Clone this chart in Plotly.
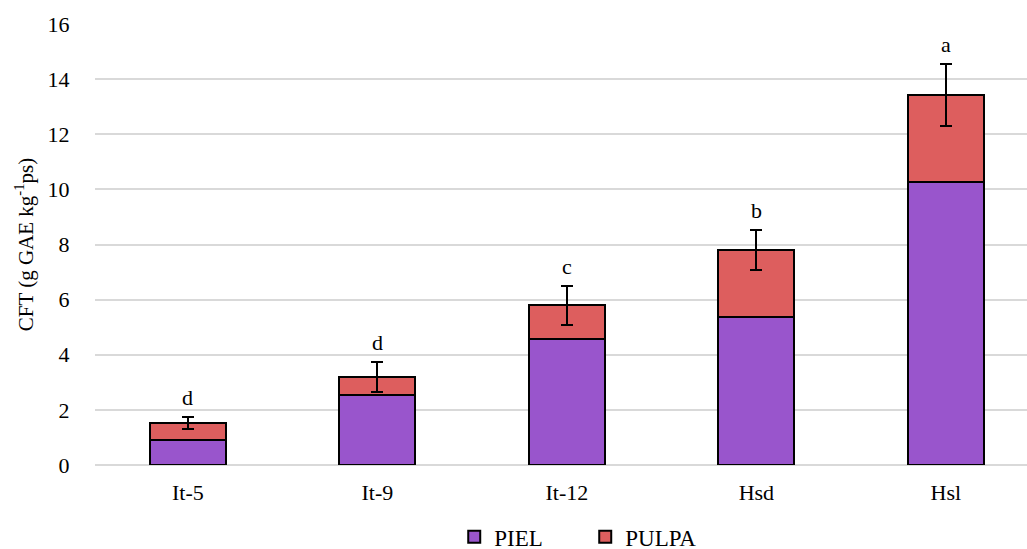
import plotly.graph_objects as go

categories = ["It-5", "It-9", "It-12", "Hsd", "Hsl"]
piel = [0.91, 2.54, 4.57, 5.38, 10.27]
pulpa = [0.61, 0.65, 1.23, 2.42, 3.15]
error = [0.23, 0.55, 0.71, 0.73, 1.13]
letters = ["d", "d", "c", "b", "a"]

font_family = "Liberation Serif"
fs = 22

fig = go.Figure()
fig.add_trace(go.Bar(
    x=categories, y=piel, name="PIEL",
    marker=dict(color="#9955cc", line=dict(color="black", width=2)),
    width=0.4,
))
fig.add_trace(go.Bar(
    x=categories, y=pulpa, name="PULPA",
    marker=dict(color="#dd5e5e", line=dict(color="black", width=2)),
    width=0.4,
    error_y=dict(type="data", array=error, visible=True, color="black", thickness=2, width=6),
))

for c, p, q, e, l in zip(categories, piel, pulpa, error, letters):
    fig.add_annotation(x=c, y=p + q + e, text=l, showarrow=False, yanchor="middle",
                       yshift=19, font=dict(family=font_family, size=fs, color="black"))

fig.update_layout(
    barmode="stack",
    width=1027, height=570,
    margin=dict(l=95, r=0, t=24, b=105),
    paper_bgcolor="white", plot_bgcolor="white",
    font=dict(family=font_family, size=fs, color="black"),
    showlegend=True,
    legend=dict(orientation="h", x=0.526, xanchor="center", y=-0.163, yanchor="middle",
                font=dict(family=font_family, size=23), itemwidth=30, traceorder="normal",
                entrywidth=86),
)
fig.update_xaxes(range=[-0.49, 4.428], showgrid=False, showline=False,
                 ticks="outside", ticklen=8, tickcolor="rgba(0,0,0,0)",
                 tickfont=dict(size=fs))
fig.update_yaxes(range=[0, 16], dtick=2, showgrid=True, gridcolor="#d9d9d9", gridwidth=1.5,
                 zeroline=True, zerolinecolor="#d9d9d9", zerolinewidth=1.5,
                 showline=False, ticks="outside", ticklen=20, tickcolor="rgba(0,0,0,0)",
                 tickfont=dict(size=fs),
                 title=dict(text="CFT (g GAE kg<sup>-1</sup>ps)", font=dict(size=21), standoff=8))

fig.write_html(
    "out.html",
    config={"displayModeBar": False},
    post_script="document.body.style.margin='0';document.body.style.padding='0';"
                "document.body.style.overflow='hidden';document.documentElement.style.overflow='hidden';",
)
